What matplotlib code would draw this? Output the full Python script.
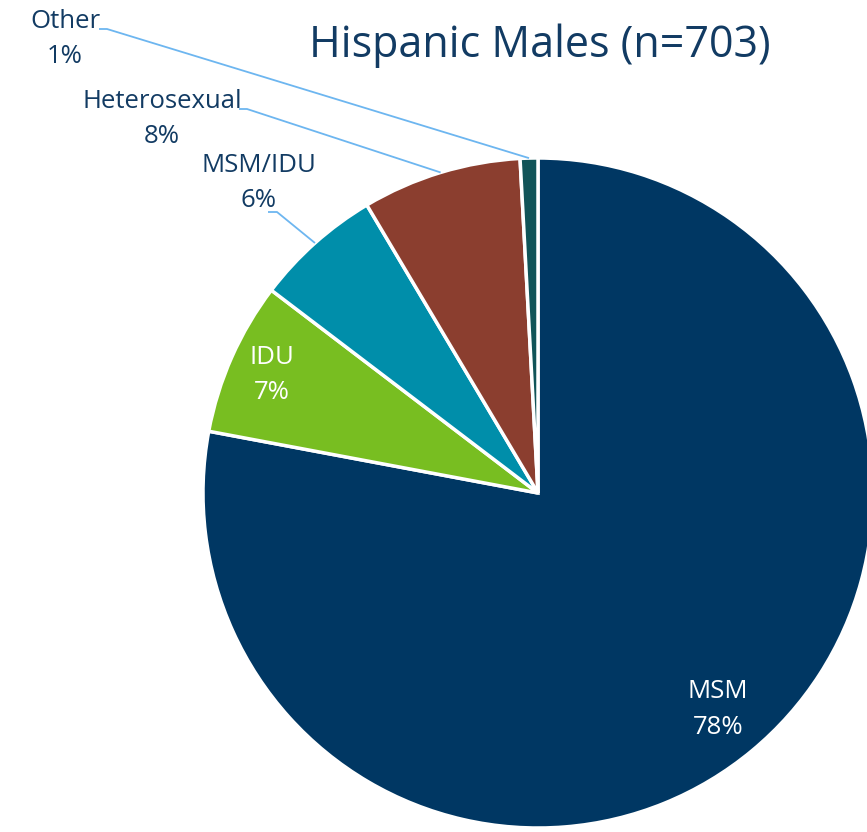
import numpy as np
import matplotlib.pyplot as plt

categories = ["MSM", "IDU", "MSM/IDU", "Heterosexual", "Other"]
counts = [548, 52, 43, 54, 6]
colors = ["#003763", "#78BE21", "#008EAA", "#8B3E2F", "#115458"]
title = "Hispanic Males (n=703)"

W, H, DPI = 867, 832, 100
R_PX = 335.0
CX, CY = 538.0, 493.0  # pie center in pixels (from top-left)

plt.rcParams["font.family"] = ["Open Sans", "DejaVu Sans"]

fig = plt.figure(figsize=(W / DPI, H / DPI), dpi=DPI)
ax = fig.add_axes([0, 0, 1, 1])

total = sum(counts)
pcts = [round(100 * c / total) for c in counts]
wedges, _ = ax.pie(counts, colors=colors, startangle=90, counterclock=False,
                   radius=1.0, center=(0, 0), frame=True,
                   wedgeprops=dict(edgecolor="white", linewidth=2.5))
ax.set_xlim(-CX / R_PX, (W - CX) / R_PX)
ax.set_ylim(-(H - CY) / R_PX, CY / R_PX)
ax.set_aspect("auto")
ax.axis("off")

def px(x, y):
    return ((x - CX) / R_PX, (CY - y) / R_PX)

label_font = 18.5
inside = {"MSM": 0.84, "IDU": 0.87}
outside = {
    "Other": dict(text=(65, 39), elbow=[(99, 29), (107, 29)]),
    "Heterosexual": dict(text=(162, 119), elbow=[(239, 109), (247, 109)]),
    "MSM/IDU": dict(text=(259, 183), elbow=[(268, 212), (277, 212)]),
}
for w, cat, p in zip(wedges, categories, pcts):
    mid = np.deg2rad((w.theta1 + w.theta2) / 2)
    s = f"{cat}\n{p}%"
    if cat in inside:
        r = inside[cat]
        ax.text(r * np.cos(mid), r * np.sin(mid), s, ha="center", va="center",
                color="white", fontsize=label_font, linespacing=1.55)
    else:
        o = outside[cat]
        tx, ty = px(*o["text"])
        ax.text(tx, ty, s, ha="center", va="center", color="#123B63",
                fontsize=label_font, linespacing=1.55)
        pts = [px(*e) for e in o["elbow"]] + [(np.cos(mid), np.sin(mid))]
        xs, ys = zip(*pts)
        ax.plot(xs, ys, color="#6DB6F0", lw=1.3, solid_capstyle="butt")

tx, ty = px(540, 46)
ax.text(tx, ty, title, ha="center", va="center", fontsize=31, color="#123B63")

fig.savefig("out.png", dpi=DPI)
